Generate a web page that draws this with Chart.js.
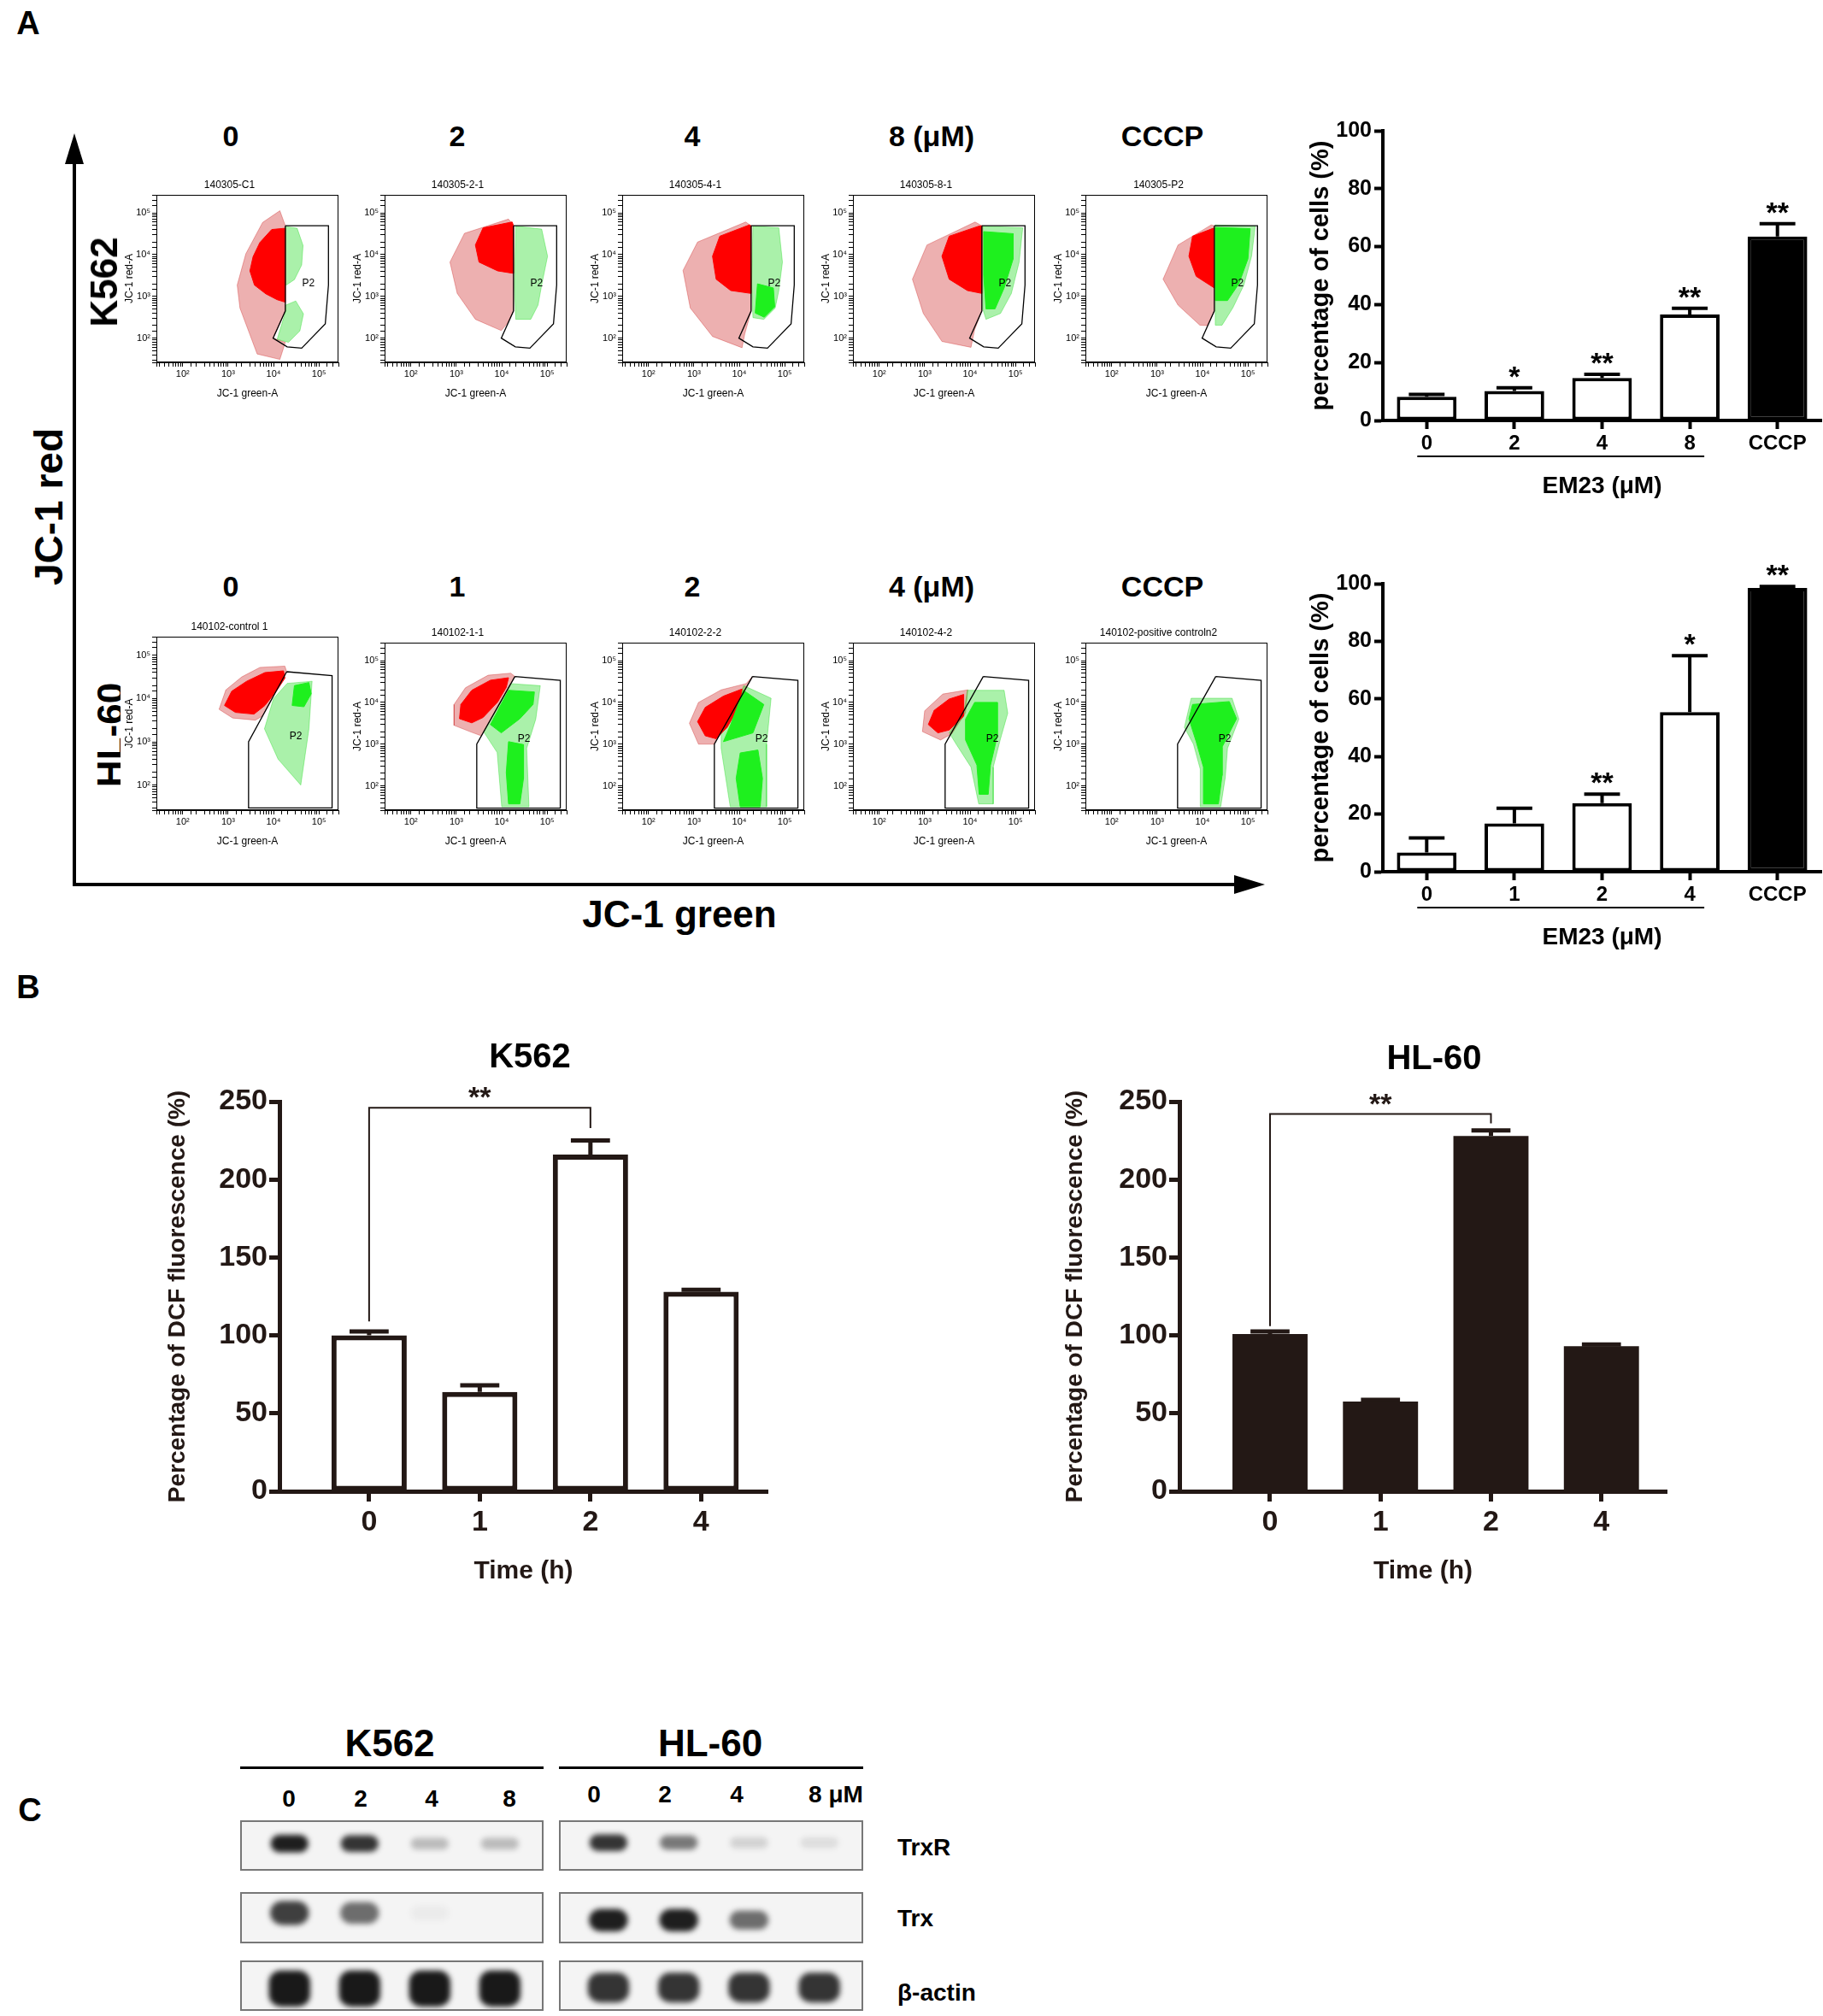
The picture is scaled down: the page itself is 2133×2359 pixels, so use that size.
<!DOCTYPE html>
<html lang="en">
<head>
<meta charset="utf-8">
<title>JC-1, DCF fluorescence and Trx/TrxR blots</title>
<script src="https://cdn.jsdelivr.net/npm/chart.js@4.4.0/dist/chart.umd.min.js"></script>
<style>
  html, body { margin: 0; padding: 0; background: #fff; }
  #page { position: relative; width: 2133px; height: 2359px; overflow: hidden;
          font-family: "Liberation Sans", Arial, sans-serif; color: #000; }
  .box { position: absolute; }
  .flow { background: #fff; z-index: 1; }
  .strip { border: 2px solid #777; background: #f4f4f4; box-sizing: border-box; }
  .txt { position: absolute; transform: translate(-50%, -50%); white-space: nowrap; font-weight: bold; z-index: 2; }
  .rot { transform: translate(-50%, -50%) rotate(-90deg); }
  .left { transform: translate(0, -50%); }
  .line { position: absolute; background: #000; }
  .head { position: absolute; width: 0; height: 0; }
</style>
</head>
<body>
<div id="page">
  <!-- big JC-1 axes arrows -->
  <div class="line" style="left:85px; top:188px; width:4px; height:849px;"></div>
  <div class="head" style="left:76px; top:156px; border-left:11px solid transparent; border-right:11px solid transparent; border-bottom:36px solid #000;"></div>
  <div class="line" style="left:85px; top:1033px; width:1362px; height:4px;"></div>
  <div class="head" style="left:1444px; top:1024px; border-top:11px solid transparent; border-bottom:11px solid transparent; border-left:36px solid #000;"></div>
  <!-- C underlines -->
  <div class="line" style="left:281px; top:2067px; width:355px; height:3px;"></div>
  <div class="line" style="left:654px; top:2067px; width:356px; height:3px;"></div>
</div>

<script>
// ---------------- panel A, flow plots (values are log10 of fluorescence) ----------------
const LOG_MIN = 1.42, LOG_MAX = 5.43;

const k562Heads = ['0', '2', '4', '8 (μM)', 'CCCP'];
const hl60Heads = ['0', '1', '2', '4 (μM)', 'CCCP'];
const k562Titles = ['140305-C1', '140305-2-1', '140305-4-1', '140305-8-1', '140305-P2'];
const hl60Titles = ['140102-control 1', '140102-1-1', '140102-2-2', '140102-4-2', '140102-positive controln2'];

const k562Gate = [[4.26, 4.69], [5.21, 4.69], [5.21, 3.27], [5.14, 2.34], [4.62, 1.76], [4.30, 1.79], [3.99, 2.00], [4.26, 2.65], [4.26, 4.69]];
const hl60Gate = [[4.29, 4.62], [5.29, 4.53], [5.29, 1.47], [3.45, 1.47], [3.45, 3.00], [4.29, 4.62]];
const k562P2 = [4.77, 3.30];
const hl60P2 = [4.49, 3.13];

// event clouds, one entry per plot, each a list of outlines
const k562RedSparse = [
  [[[4.14, 5.05], [3.76, 4.77], [3.39, 4.02], [3.20, 3.27], [3.26, 2.72], [3.45, 2.17], [3.64, 1.62], [4.14, 1.49], [4.26, 1.90], [3.99, 2.00], [4.26, 2.65], [4.26, 4.69]]],
  [[[4.15, 4.85], [3.18, 4.51], [2.86, 3.82], [3.02, 3.07], [3.42, 2.45], [3.99, 2.18], [4.12, 2.35], [4.26, 2.65], [4.26, 4.69]]],
  [[[4.14, 4.78], [3.08, 4.30], [2.76, 3.62], [2.92, 2.72], [3.41, 2.04], [4.06, 1.77], [4.12, 2.10], [4.26, 2.65], [4.26, 4.69]]],
  [[[4.11, 4.78], [3.05, 4.23], [2.73, 3.41], [2.97, 2.59], [3.38, 1.92], [4.02, 1.78], [4.10, 2.20], [4.26, 2.65], [4.26, 4.69]]],
  [[[4.19, 4.71], [3.46, 4.23], [3.13, 3.41], [3.46, 2.79], [3.94, 2.31], [4.10, 2.30], [4.26, 2.65], [4.26, 4.69]]]
];
const k562RedDense = [
  [[[4.26, 4.63], [3.96, 4.60], [3.70, 4.29], [3.55, 3.95], [3.48, 3.61], [3.58, 3.27], [3.83, 3.06], [4.08, 2.92], [4.26, 2.86]]],
  [[[4.23, 4.78], [3.59, 4.64], [3.42, 4.23], [3.50, 3.82], [3.91, 3.61], [4.26, 3.55], [4.26, 4.69]]],
  [[[4.22, 4.71], [3.57, 4.44], [3.41, 3.96], [3.49, 3.41], [3.81, 3.14], [4.26, 3.07], [4.26, 4.69]]],
  [[[4.19, 4.68], [3.54, 4.44], [3.38, 3.96], [3.54, 3.41], [3.94, 3.14], [4.26, 3.07], [4.26, 4.69]]],
  [[[4.26, 4.64], [3.78, 4.44], [3.70, 3.96], [3.86, 3.48], [4.26, 3.20]]]
];
const k562GreenSparse = [
  [[[4.27, 4.67], [4.52, 4.63], [4.65, 4.22], [4.62, 3.75], [4.46, 3.40], [4.28, 3.27]],
   [[4.27, 2.79], [4.49, 2.89], [4.66, 2.58], [4.58, 2.17], [4.33, 1.90], [4.08, 1.97], [4.26, 2.62]]],
  [[[4.31, 4.68], [4.88, 4.61], [5.01, 3.96], [4.88, 3.27], [4.80, 2.79], [4.64, 2.45], [4.31, 2.45], [4.28, 3.27]]],
  [[[4.30, 4.68], [4.87, 4.64], [4.95, 3.82], [4.87, 3.14], [4.79, 2.72], [4.54, 2.45], [4.30, 2.49], [4.27, 3.30]]],
  [[[4.28, 4.68], [5.16, 4.64], [5.08, 3.82], [4.91, 3.07], [4.67, 2.59], [4.35, 2.45], [4.28, 2.70]]],
  [[[4.28, 4.71], [5.16, 4.68], [5.08, 3.96], [4.91, 3.27], [4.67, 2.73], [4.43, 2.31], [4.28, 2.31]]]
];
const k562GreenDense = [
  [],
  [],
  [[[4.40, 3.30], [4.75, 3.20], [4.78, 2.75], [4.55, 2.50], [4.35, 2.60]]],
  [[[4.30, 4.55], [4.95, 4.50], [4.95, 3.90], [4.75, 3.20], [4.55, 2.70], [4.35, 2.70], [4.30, 3.50]]],
  [[[4.28, 4.65], [5.05, 4.62], [5.00, 3.90], [4.80, 3.30], [4.55, 2.90], [4.28, 2.90]]]
];

const hl60RedSparse = [
  [[[4.25, 4.75], [3.70, 4.72], [3.30, 4.50], [2.95, 4.20], [2.80, 3.75], [3.10, 3.55], [3.60, 3.50], [3.76, 3.60], [4.29, 4.62]]],
  [[[4.20, 4.70], [3.70, 4.65], [3.20, 4.35], [2.95, 3.95], [2.95, 3.45], [3.30, 3.30], [3.55, 3.20], [4.29, 4.62]]],
  [[[4.15, 4.45], [3.60, 4.30], [3.10, 4.00], [2.90, 3.50], [3.10, 3.00], [3.45, 3.00], [4.29, 4.62]]],
  [[[3.95, 4.30], [3.40, 4.20], [3.00, 3.80], [2.95, 3.30], [3.35, 3.10], [3.60, 3.25], [3.90, 3.75]]],
  []
];
const hl60RedDense = [
  [[[4.22, 4.64], [3.81, 4.60], [3.41, 4.40], [3.08, 4.17], [2.92, 3.84], [3.16, 3.68], [3.57, 3.64], [3.81, 3.84], [4.06, 4.17], [4.25, 4.47]]],
  [[[4.15, 4.59], [3.75, 4.53], [3.34, 4.29], [3.10, 3.95], [3.07, 3.61], [3.34, 3.51], [3.59, 3.64], [3.91, 4.01], [4.10, 4.36]]],
  [[[4.06, 4.32], [3.65, 4.15], [3.25, 3.88], [3.08, 3.54], [3.25, 3.20], [3.49, 3.13], [3.73, 3.40], [4.02, 3.95]]],
  [[[3.86, 4.19], [3.54, 4.08], [3.21, 3.81], [3.08, 3.47], [3.29, 3.27], [3.54, 3.34], [3.86, 3.67]]],
  []
];
const hl60GreenSparse = [
  [[[4.30, 4.35], [4.85, 4.40], [4.78, 3.30], [4.60, 2.00], [4.10, 2.60], [3.80, 3.30], [4.00, 4.00]]],
  [[[4.20, 4.45], [4.85, 4.40], [4.75, 3.60], [4.55, 2.90], [4.60, 1.50], [4.00, 1.50], [3.90, 2.80], [3.60, 3.30]]],
  [[[4.10, 4.40], [4.70, 4.10], [4.60, 3.00], [4.60, 1.50], [3.80, 1.50], [3.60, 2.90], [3.60, 3.30]]],
  [[[3.94, 4.29], [4.75, 4.29], [4.83, 3.74], [4.67, 3.13], [4.51, 2.45], [4.51, 1.57], [4.19, 1.57], [4.02, 2.45], [3.70, 2.99], [3.54, 3.27], [3.86, 3.74]]],
  [[[3.75, 4.10], [4.65, 4.10], [4.80, 3.60], [4.55, 2.90], [4.50, 2.20], [4.40, 1.50], [3.95, 1.50], [3.95, 2.40], [3.80, 3.00], [3.60, 3.40]]]
];
const hl60GreenDense = [
  [[[4.46, 4.30], [4.78, 4.37], [4.83, 4.11], [4.67, 3.81], [4.41, 3.84]]],
  [[[4.15, 4.29], [4.72, 4.25], [4.69, 3.95], [4.40, 3.61], [3.99, 3.27], [3.75, 3.47]],
   [[4.15, 3.06], [4.48, 2.99], [4.48, 2.18], [4.40, 1.57], [4.15, 1.57], [4.10, 2.32]]],
  [[[4.09, 4.29], [4.54, 3.95], [4.30, 3.27], [3.65, 3.06], [3.81, 3.47]],
   [[4.02, 2.79], [4.41, 2.86], [4.51, 2.18], [4.46, 1.50], [4.02, 1.50], [3.93, 2.18]]],
  [[[4.10, 4.00], [4.60, 4.00], [4.60, 3.20], [4.45, 2.50], [4.40, 1.80], [4.20, 1.80], [4.15, 2.50], [3.90, 3.10], [3.90, 3.60]]],
  [[[3.78, 3.95], [4.59, 4.02], [4.75, 3.61], [4.43, 2.93], [4.43, 2.25], [4.35, 1.57], [4.02, 1.57], [4.02, 2.45], [3.86, 3.06], [3.70, 3.61]]]
];

// ---------------- panel A, bar charts: % cells with low membrane potential ----------------
const k562MmpLabels = ['0', '2', '4', '8', 'CCCP'];
const k562MmpMean = [8.2, 10.2, 14.7, 36.6, 63.5];
const k562MmpErr = [0.8, 1.1, 1.2, 2.1, 4.4];
const k562MmpSig = ['', '*', '**', '**', '**'];

const hl60MmpLabels = ['0', '1', '2', '4', 'CCCP'];
const hl60MmpMean = [6.7, 16.8, 23.8, 55.4, 98.5];
const hl60MmpErr = [5.0, 5.2, 3.1, 19.6, 0.5];
const hl60MmpSig = ['', '', '**', '*', '**'];

// ---------------- panel B: DCF fluorescence ----------------
const rosLabels = ['0', '1', '2', '4'];
const k562RosMean = [100.1, 63.7, 216.0, 128.0];
const k562RosErr = [2.4, 4.3, 9.0, 1.2];
const hl60RosMean = [100.9, 57.5, 228.0, 93.0];
const hl60RosErr = [1.6, 1.2, 3.5, 1.2];
// [from bar, to bar, bracket level, left leg end, right leg end]
const k562RosBracket = [0, 2, 246, 109, 233];
const hl60RosBracket = [0, 2, 242, 106, 236];

// ---------------- panel C: western blot band strength (0 = none, 1 = saturated) ----------------
const k562BlotDoses = ['0', '2', '4', '8'];
const hl60BlotDoses = ['0', '2', '4', '8 μM'];
const blotProteins = ['TrxR', 'Trx', 'β-actin'];
const k562TrxR = [0.95, 0.85, 0.25, 0.25];
const k562Trx = [0.80, 0.60, 0.04, 0.00];
const k562Actin = [0.97, 0.97, 0.97, 0.97];
const hl60TrxR = [0.85, 0.55, 0.15, 0.10];
const hl60Trx = [0.95, 0.95, 0.60, 0.00];
const hl60Actin = [0.85, 0.85, 0.85, 0.85];

// ---------------------------------------------------------------------------------
Chart.defaults.font.family = "'Liberation Sans', Arial, sans-serif";
Chart.defaults.color = '#000';
Chart.defaults.animation = false;
Chart.defaults.events = [];
Chart.defaults.plugins.legend.display = false;
Chart.defaults.plugins.tooltip.enabled = false;

const page = document.getElementById('page');
const SUP = { 2: '²', 3: '³', 4: '⁴', 5: '⁵' };
const pow = v => Math.pow(10, v);

function place(left, top, w, h, cls) {
  const d = document.createElement('div');
  d.className = 'box ' + (cls || '');
  Object.assign(d.style, { left: left + 'px', top: top + 'px', width: w + 'px', height: h + 'px' });
  const c = document.createElement('canvas');
  d.appendChild(c);
  page.appendChild(d);
  return c;
}

function text(t, x, y, size, cls, z) {
  const s = document.createElement('div');
  s.className = 'txt ' + (cls || '');
  s.textContent = t;
  Object.assign(s.style, { left: x + 'px', top: y + 'px', fontSize: size + 'px' });
  if (z !== undefined) s.style.zIndex = z;
  page.appendChild(s);
}

// frame round the plot area + the P2 gate name
const flowFrame = {
  id: 'flowFrame',
  afterDraw(chart, args, opts) {
    const { ctx, chartArea: a } = chart;
    ctx.save();
    ctx.strokeStyle = '#000';
    ctx.lineWidth = 1;
    ctx.strokeRect(a.left + 0.5, a.top + 0.5, a.width - 1, a.height - 1);
    if (opts.p2) {
      ctx.font = "12px 'Liberation Sans', Arial, sans-serif";
      ctx.fillStyle = '#000';
      ctx.textAlign = 'center';
      ctx.textBaseline = 'middle';
      ctx.fillText('P2', chart.scales.x.getPixelForValue(pow(opts.p2[0])), chart.scales.y.getPixelForValue(pow(opts.p2[1])));
    }
    ctx.restore();
  }
};

function logLabel(v) {
  const e = Math.log10(v);
  const r = Math.round(e);
  return Math.abs(e - r) < 1e-6 && SUP[r] ? '10' + SUP[r] : '';
}

function flowAxis(title, fit) {
  return {
    type: 'logarithmic', min: pow(LOG_MIN), max: pow(LOG_MAX),
    afterFit: fit,
    grid: { drawOnChartArea: false, tickLength: 5, color: '#000', tickColor: '#000' },
    border: { color: '#000', width: 1 },
    ticks: { autoSkip: false, maxRotation: 0, font: { size: 11 }, padding: 2, callback: logLabel },
    title: { display: true, text: title, font: { size: 12 }, padding: { top: 3, bottom: 2 } }
  };
}

function flowPlot(left, top, h, title, layers, gate, p2) {
  const w = 213;
  const c = place(left - 42, top - 20, 42 + w + 4, 20 + h + 46, 'flow');
  const datasets = [];
  layers.forEach(([polys, color, order]) => {
    polys.forEach(poly => {
      const pts = poly.map(([a, b]) => ({ x: pow(a), y: pow(b) }));
      pts.push(pts[0]);
      datasets.push({ data: pts, showLine: true, fill: 'shape', backgroundColor: color, borderColor: color,
                      borderWidth: 1, pointRadius: 0, order });
    });
  });
  datasets.push({ data: gate.map(([a, b]) => ({ x: pow(a), y: pow(b) })), showLine: true, fill: false,
                  borderColor: '#000', borderWidth: 1.3, pointRadius: 0, order: 0 });
  new Chart(c, {
    type: 'scatter',
    data: { datasets },
    options: {
      responsive: true, maintainAspectRatio: false,
      layout: { padding: { top: 0, right: 4, bottom: 0, left: 0 } },
      plugins: {
        title: { display: true, text: title, font: { size: 12, weight: 'normal' }, padding: { top: 1.6, bottom: 4 } },
        flowFrame: { p2 }
      },
      scales: {
        x: flowAxis('JC-1 green-A', s => { s.height = 46; }),
        y: flowAxis('JC-1 red-A', s => { s.width = 42; })
      }
    },
    plugins: [flowFrame]
  });
}

const RED_D = '#ff0000', RED_S = 'rgba(200,15,15,0.33)';
const GRN_D = '#1ef01e', GRN_S = 'rgba(20,215,20,0.36)';
const flowLefts = [183, 450, 728, 998, 1270];

k562Titles.forEach((t, i) => {
  flowPlot(flowLefts[i], 228, 196, t,
    [[k562RedSparse[i], RED_S, 4], [k562GreenSparse[i], GRN_S, 3], [k562RedDense[i], RED_D, 2], [k562GreenDense[i], GRN_D, 1]],
    k562Gate, k562P2);
});
hl60Titles.forEach((t, i) => {
  const top = i === 0 ? 745 : 752;
  flowPlot(flowLefts[i], top, 948 - top, t,
    [[hl60RedSparse[i], RED_S, 4], [hl60GreenSparse[i], GRN_S, 3], [hl60RedDense[i], RED_D, 2], [hl60GreenDense[i], GRN_D, 1]],
    hl60Gate, hl60P2);
});

// ---------------- bar charts ----------------
const errorBars = {
  id: 'errorBars',
  afterDatasetsDraw(chart, args, o) {
    const { ctx } = chart;
    const y = chart.scales.y;
    const meta = chart.getDatasetMeta(0);
    const vals = chart.data.datasets[0].data.map(d => (typeof d === 'object' ? d.y : d));
    ctx.save();
    ctx.strokeStyle = o.color;
    ctx.fillStyle = o.color;
    ctx.lineWidth = o.width;
    ctx.textAlign = 'center';
    ctx.textBaseline = 'alphabetic';
    ctx.font = "bold 34px 'Liberation Sans', Arial, sans-serif";
    meta.data.forEach((bar, i) => {
      const top = y.getPixelForValue(vals[i] + o.err[i]);
      const half = bar.width * o.cap / 2;
      ctx.beginPath();
      ctx.moveTo(bar.x, bar.y);
      ctx.lineTo(bar.x, top);
      ctx.moveTo(bar.x - half, top);
      ctx.lineTo(bar.x + half, top);
      ctx.stroke();
      if (o.sig && o.sig[i]) ctx.fillText(o.sig[i], bar.x, top - 2);
    });
    if (o.underline) {
      const [from, to, dl, dr, dy] = o.underline;
      const yy = chart.chartArea.bottom + dy;
      ctx.lineWidth = 2;
      ctx.beginPath();
      ctx.moveTo(meta.data[from].x - dl, yy);
      ctx.lineTo(meta.data[to].x + dr, yy);
      ctx.stroke();
    }
    if (o.bracket) {
      const [from, to, level, l1, l2] = o.bracket;
      const xa = meta.data[from].x, xb = meta.data[to].x;
      const yl = y.getPixelForValue(level);
      ctx.lineWidth = 2;
      ctx.beginPath();
      ctx.moveTo(xa, y.getPixelForValue(l1));
      ctx.lineTo(xa, yl);
      ctx.lineTo(xb, yl);
      ctx.lineTo(xb, y.getPixelForValue(l2));
      ctx.stroke();
      ctx.fillText('**', (xa + xb) / 2, yl - 1);
    }
    ctx.restore();
  }
};

function mmpChart(left, top, padTop, plotH, labels, mean, err, sig) {
  const c = place(left, top, 2133 - left, padTop + plotH + 98);
  new Chart(c, {
    type: 'bar',
    data: {
      labels,
      datasets: [{
        data: mean,
        backgroundColor: labels.map(l => (l === 'CCCP' ? '#000' : '#fff')),
        borderColor: '#000', borderWidth: 4, borderSkipped: false,
        barPercentage: 0.68, categoryPercentage: 1
      }]
    },
    options: {
      responsive: true, maintainAspectRatio: false,
      layout: { padding: { top: padTop, right: 2, bottom: 0, left: 0 } },
      plugins: { errorBars: { err, sig, color: '#000', width: 4, cap: 0.6, underline: [0, 3, 11, 17, 42] } },
      scales: {
        x: {
          afterFit: s => { s.height = 98; },
          grid: { drawOnChartArea: false, offset: false, tickLength: 10, tickWidth: 4, tickColor: '#000' },
          border: { color: '#000', width: 4 },
          ticks: { font: { size: 24, weight: 'bold' }, padding: 3 },
          title: { display: true, text: 'EM23 (μM)', font: { size: 28, weight: 'bold' }, padding: { top: 14 } }
        },
        y: {
          min: 0, max: 100,
          afterFit: s => { s.width = 89; },
          grid: { drawOnChartArea: false, tickLength: 10, tickWidth: 4, tickColor: '#000' },
          border: { color: '#000', width: 4 },
          ticks: { stepSize: 20, font: { size: 25, weight: 'bold' }, padding: 3 },
          title: { display: true, text: 'percentage of cells (%)', font: { size: 29, weight: 'bold' }, padding: { top: 0, bottom: 0 } }
        }
      }
    },
    plugins: [errorBars]
  });
}

mmpChart(1529, 120, 33, 339, k562MmpLabels, k562MmpMean, k562MmpErr, k562MmpSig);
mmpChart(1529, 640, 43, 337, hl60MmpLabels, hl60MmpMean, hl60MmpErr, hl60MmpSig);

function rosChart(left, width, yWidth, xMin, xMax, mean, err, bracket, filled) {
  const ink = '#231815';
  const c = place(left, 1250, width, 39 + 456 + 116);
  new Chart(c, {
    type: 'bar',
    data: {
      datasets: [{
        data: mean.map((v, i) => ({ x: i, y: v })),
        backgroundColor: filled ? ink : '#fff',
        borderColor: ink, borderWidth: filled ? 0 : 6, borderSkipped: false,
        barPercentage: 0.68, categoryPercentage: 1
      }]
    },
    options: {
      responsive: true, maintainAspectRatio: false,
      layout: { padding: { top: 39, right: 2, bottom: 0, left: 0 } },
      plugins: { errorBars: { err, color: ink, width: 5, cap: 0.52, bracket } },
      scales: {
        x: {
          type: 'linear', min: xMin, max: xMax, offset: false,
          afterFit: s => { s.height = 116; },
          grid: { drawOnChartArea: false, offset: false, tickLength: 12, tickWidth: 5, tickColor: ink },
          border: { color: ink, width: 5 },
          ticks: { stepSize: 1, includeBounds: false, font: { size: 34, weight: 'bold' }, color: ink, padding: 4,
                   callback: v => (rosLabels[v] !== undefined ? rosLabels[v] : '') },
          title: { display: true, text: 'Time (h)', color: ink, font: { size: 30, weight: 'bold' }, padding: { top: 14 } }
        },
        y: {
          min: 0, max: 250,
          afterFit: s => { s.width = yWidth; },
          grid: { drawOnChartArea: false, tickLength: 12, tickWidth: 5, tickColor: ink },
          border: { color: ink, width: 5 },
          ticks: { stepSize: 50, font: { size: 34, weight: 'bold' }, color: ink, padding: 2 },
          title: { display: true, text: 'Percentage of DCF fluorescence (%)', color: ink,
                   font: { size: 28, weight: 'bold' }, padding: { top: 0, bottom: 0 } }
        }
      }
    },
    plugins: [errorBars]
  });
}

rosChart(191, 709, 136, -0.81, 3.6, k562RosMean, k562RosErr, k562RosBracket, false);
rosChart(1241, 711, 139, -0.82, 3.59, hl60RosMean, hl60RosErr, hl60RosBracket, true);

// ---------------- blots ----------------
const blotBlur = {
  id: 'blotBlur',
  beforeDatasetsDraw(chart) { chart.ctx.save(); chart.ctx.filter = 'blur(3px)'; },
  afterDatasetsDraw(chart) { chart.ctx.restore(); }
};

// band centre / height as a fraction of the strip, band width as a fraction of a lane
const bandRows = [
  { top: 2130, h: 59, k562: { c: 0.54, s: 0.38, w: 0.9 }, hl60: { c: 0.56, s: 0.38, w: 0.9 } },
  { top: 2214, h: 60, k562: { c: 0.60, s: 0.55, w: 0.92 }, hl60: { c: 0.45, s: 0.48, w: 0.92 } },
  { top: 2294, h: 59, k562: { c: 0.44, s: 0.78, w: 0.98 }, hl60: { c: 0.46, s: 0.68, w: 0.98 } }
];

function blotStrip(left, top, w, h, values, band) {
  const c = place(left, top, w, h, 'strip');
  new Chart(c, {
    type: 'bar',
    data: {
      datasets: [{
        data: values.map((v, i) => {
          const half = band.s * (0.55 + 0.45 * v) / 2;
          return { x: i, y: [band.c - half, band.c + half] };
        }),
        backgroundColor: values.map(v => `rgba(18,18,18,${v})`),
        borderWidth: 0, borderSkipped: false, borderRadius: 14,
        barPercentage: band.w, categoryPercentage: 1
      }]
    },
    options: {
      responsive: true, maintainAspectRatio: false,
      layout: { padding: 0 },
      scales: {
        x: { type: 'linear', min: -0.68, max: 3.6, offset: false, display: false },
        y: { min: 0, max: 1, display: false }
      }
    },
    plugins: [blotBlur]
  });
}

[[k562TrxR, hl60TrxR], [k562Trx, hl60Trx], [k562Actin, hl60Actin]].forEach(([kv, hv], r) => {
  const row = bandRows[r];
  blotStrip(281, row.top, 355, row.h, kv, row.k562);
  blotStrip(654, row.top, 356, row.h, hv, row.hl60);
});

// ---------------- text ----------------
text('A', 33, 27, 38);
text('B', 33, 1155, 38);
text('C', 35, 2118, 38);
const headX = [270, 535, 810, 1090, 1360];
k562Heads.forEach((t, i) => text(t, headX[i], 159, 34));
hl60Heads.forEach((t, i) => text(t, headX[i], 686, 34));
text('K562', 122, 330, 44, 'rot');
text('HL-60', 130, 860, 44, 'rot', 0);
text('JC-1 red', 57, 593, 46, 'rot');
text('JC-1 green', 795, 1070, 44);
text('K562', 620, 1235, 40);
text('HL-60', 1678, 1237, 40);
text('K562', 456, 2040, 44);
text('HL-60', 831, 2040, 44);
[338, 422, 505, 596].forEach((x, i) => text(k562BlotDoses[i], x, 2105, 28));
[695, 778, 862, 978].forEach((x, i) => text(hl60BlotDoses[i], x, 2100, 28));
[2162, 2245, 2332].forEach((y, i) => text(blotProteins[i], 1050, y, 28, 'left'));
</script>
</body>
</html>
